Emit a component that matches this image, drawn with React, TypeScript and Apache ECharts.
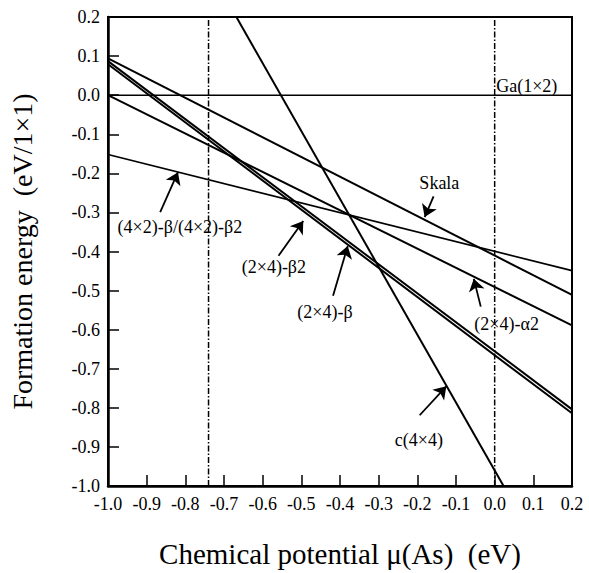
import React, { useEffect, useRef } from "react";
import * as echarts from "echarts";

const FONT = "'Liberation Serif', 'Times New Roman', serif";

// Formation energy lines: [x, y] endpoints in data units
const xRange = [-1.0, 0.2];
const skala = [0.094, -0.511];
const alpha2 = [0.0, -0.589];
const beta = [0.087, -0.804];
const beta2 = [0.079, -0.814];
const fourByTwo = [-0.152, -0.449];
const c4x4 = [[-0.668, 0.2], [0.023, -1.0]];
const ga1x2 = 0.0;
const verticalMarks = [-0.74, 0.0];

// Annotation labels [x, y] text centers, arrows tail->tip in data units
const labels = [
  { text: "Ga(1×2)", at: [0.083, 0.024] },
  { text: "Skala", at: [-0.143, -0.225] },
  { text: "(4×2)-β/(4×2)-β2", at: [-0.814, -0.338] },
  { text: "(2×4)-β2", at: [-0.571, -0.439] },
  { text: "(2×4)-β", at: [-0.439, -0.554] },
  { text: "(2×4)-α2", at: [0.031, -0.585] },
  { text: "c(4×4)", at: [-0.196, -0.883] },
];
const arrows = [
  [[-0.865, -0.299], [-0.819, -0.197]],
  [[-0.158, -0.259], [-0.181, -0.312]],
  [[-0.559, -0.411], [-0.495, -0.322]],
  [[-0.418, -0.513], [-0.38, -0.386]],
  [[-0.036, -0.541], [-0.054, -0.47]],
  [[-0.194, -0.819], [-0.125, -0.745]],
];

function seg(ends: number[]) {
  return [[xRange[0], ends[0]], [xRange[1], ends[1]]];
}

export default function App() {
  const ref = useRef<HTMLDivElement>(null);
  useEffect(() => {
    if (!ref.current) return;
    const chart = echarts.init(ref.current, null, { renderer: "svg" });
    const lineS = (name: string, data: number[][], width: number, extra: any = {}) => ({
      name,
      type: "line",
      data,
      symbol: "none",
      lineStyle: { color: "#000", width, ...extra },
      z: 3,
    });
    const option: any = {
      animation: false,
      backgroundColor: "#fff",
      textStyle: { fontFamily: FONT },
      grid: {
        left: 102,
        right: 17,
        top: 17,
        bottom: 85,
        show: true,
        borderColor: "#000",
        borderWidth: 2,
      },
      xAxis: {
        type: "value",
        min: -1.0,
        max: 0.2,
        interval: 0.1,
        name: "Chemical potential μ(As)  (eV)",
        nameLocation: "middle",
        nameGap: 53,
        nameTextStyle: { fontFamily: FONT, fontSize: 29, color: "#000" },
        axisLine: { show: true, onZero: false, lineStyle: { color: "#000", width: 2.5 } },
        axisTick: { show: true, inside: true, length: 11, lineStyle: { color: "#000", width: 1.5 } },
        axisLabel: {
          color: "#000",
          fontFamily: FONT,
          fontSize: 18,
          margin: 9,
          formatter: (v: number) => v.toFixed(1),
        },
        splitLine: { show: false },
      },
      yAxis: {
        type: "value",
        min: -1.0,
        max: 0.2,
        interval: 0.1,
        name: "Formation energy  (eV/1×1)",
        nameLocation: "middle",
        nameGap: 72,
        nameTextStyle: { fontFamily: FONT, fontSize: 28, color: "#000" },
        axisLine: { show: true, onZero: false, lineStyle: { color: "#000", width: 2.5 } },
        axisTick: { show: true, inside: true, length: 11, lineStyle: { color: "#000", width: 1.5 } },
        axisLabel: {
          color: "#000",
          fontFamily: FONT,
          fontSize: 18,
          margin: 8,
          formatter: (v: number) => v.toFixed(1),
        },
        splitLine: { show: false },
      },
      series: [
        lineS("Skala", seg(skala), 2),
        lineS("(2×4)-α2", seg(alpha2), 2),
        lineS("(2×4)-β", seg(beta), 2),
        lineS("(2×4)-β2", seg(beta2), 2),
        lineS("(4×2)-β/(4×2)-β2", seg(fourByTwo), 1.6),
        lineS("c(4×4)", c4x4, 2),
        lineS("Ga(1×2)", seg([ga1x2, ga1x2]), 1.5),
        ...verticalMarks.map((x, i) =>
          lineS("v" + i, [[x, -1.0], [x, 0.2]], 1.5, { type: [6, 2, 1.5, 2] })
        ),
        {
          type: "lines",
          coordinateSystem: "cartesian2d",
          data: arrows.map((c) => ({ coords: c })),
          symbol: ["none", "arrow"],
          symbolSize: [8, 12],
          lineStyle: { color: "#000", width: 1.8, opacity: 1 },
          z: 4,
        },
      ],
    };
    chart.setOption(option);
    const graphics = labels.map((l) => {
      const p = chart.convertToPixel({ gridIndex: 0 }, l.at) as number[];
      return {
        type: "text",
        x: p[0],
        y: p[1],
        z: 10,
        style: {
          text: l.text,
          fill: "#000",
          font: `18px ${FONT}`,
          align: "center",
          verticalAlign: "middle",
        },
      };
    });
    chart.setOption({ graphic: graphics });
    return () => chart.dispose();
  }, []);
  return <div ref={ref} style={{ width: 589, height: 573, position: "absolute", left: 0, top: 0 }} />;
}
